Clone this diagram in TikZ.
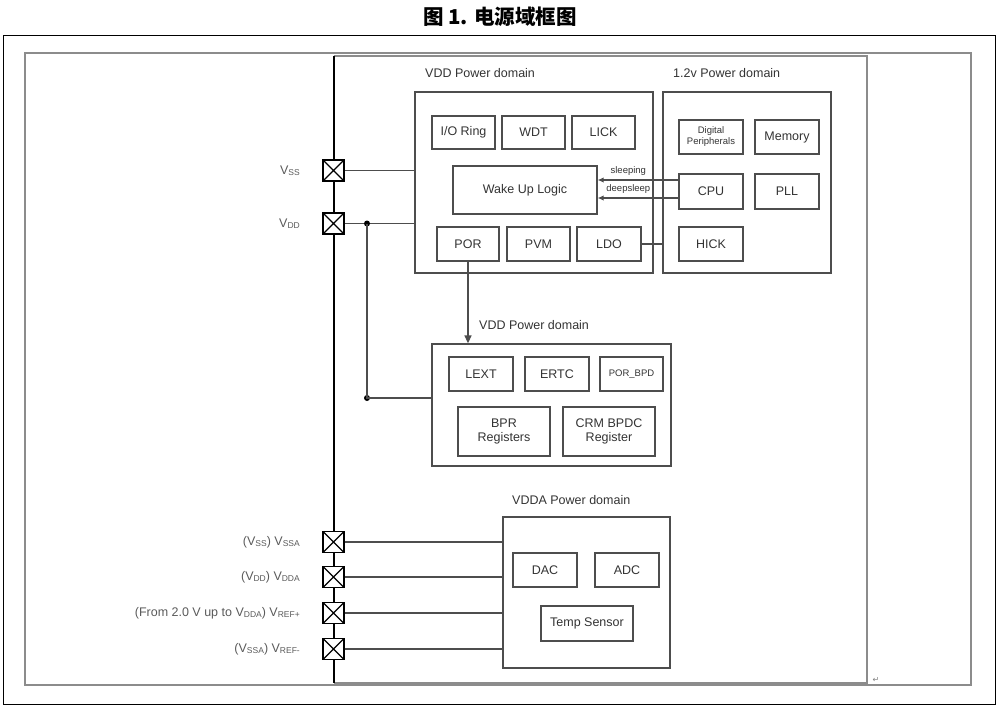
\documentclass[tikz,border=0pt]{standalone}
\usepackage{fontspec}
\setmainfont{Liberation Sans}
\newfontfamily\cjk{Noto Sans CJK SC}
\newfontfamily\dejavu{DejaVu Sans}
\usetikzlibrary{arrows.meta}
\newcommand{\pinsub}[1]{\raisebox{-0.8pt}{\fontsize{8.5}{9}\selectfont #1}}
\definecolor{boxline}{HTML}{4D4D4D}
\definecolor{boxtext}{HTML}{333333}
\definecolor{pinlabel}{HTML}{5A5A5A}
\definecolor{framegray}{HTML}{8C8C8C}

\begin{document}
\begin{tikzpicture}[
  x=1pt,
  y=-1pt,
  every node/.style={font=\fontsize{12.5}{14}\selectfont, text=boxtext},
  blk/.style={draw=boxline, line width=1.3pt, inner sep=0pt, align=center},
  cell/.style={blk, minimum width=64pt, minimum height=34pt},
  widecell/.style={blk, minimum width=92pt, minimum height=49pt},
  wire/.style={boxline, line width=1.4pt},
  smalltxt/.style={font=\fontsize{9.5}{11}\selectfont},
  pad/.style={draw=black, line width=1.5pt, fill=white, inner sep=0pt, minimum size=21pt,
    path picture={\draw[black, line width=1.1pt]
      (path picture bounding box.north west) -- (path picture bounding box.south east)
      (path picture bounding box.north east) -- (path picture bounding box.south west);}},
  pinlbl/.style={anchor=east, inner sep=0pt, text=pinlabel},
  dot/.style={circle, fill=black, inner sep=0pt, minimum size=6pt}
]
  \useasboundingbox (0,0) rectangle (1000,710);

  % ---- title and frames ----
  \node[font=\cjk\bfseries\fontsize{20.5}{22}\selectfont, text=black] (title) at (500,17) {图 1. 电源域框图};
  \draw[black, line width=0.8pt] (3,35) rectangle (995,704);
  \draw[framegray, line width=1.2pt] (25,53) rectangle (971,685);
  \draw[framegray, line width=1.5pt] (333.5,56) -- (867,56) -- (867,683) -- (333.5,683);
  \node[font=\dejavu\fontsize{8}{8}\selectfont, text=gray] (retmark) at (876,680) {↵};

  % ---- supply bus ----
  \draw[black, line width=2pt] (333.5,56) -- (333.5,683);

  % ---- VDD power domain ----
  \node[anchor=west, inner sep=0pt] (vddtitle) at (425,73) {VDD Power domain};
  \node[blk, minimum width=238pt, minimum height=181pt] (vddbox) at (534,182.5) {};
  \node[cell, minimum width=63pt, minimum height=33pt] (ioring) at (463.5,132.5) {I/O Ring};
  \node[cell, minimum width=63pt, minimum height=33pt] (wdt) at (533.5,132.5) {WDT};
  \node[cell, minimum width=63pt, minimum height=33pt] (lick) at (603.5,132.5) {LICK};
  \node[blk, minimum width=144pt, minimum height=48pt] (wakeup) at (525,190) {Wake Up Logic};
  \node[cell, minimum width=62pt] (por) at (468,244) {POR};
  \node[cell, minimum width=63pt] (pvm) at (538.5,244) {PVM};
  \node[cell] (ldo) at (609,244) {LDO};

  % ---- 1.2v power domain ----
  \node[anchor=west, inner sep=0pt] (coretitle) at (673,73) {1.2v Power domain};
  \node[blk, minimum width=168pt, minimum height=181pt] (corebox) at (747,182.5) {};
  \node[cell, smalltxt] (digper) at (711,137) {Digital\\Peripherals};
  \node[cell] (memory) at (787,137) {Memory};
  \node[cell, minimum height=35pt] (cpu) at (711,191.5) {CPU};
  \node[cell, minimum height=35pt] (pll) at (787,191.5) {PLL};
  \node[cell] (hick) at (711,244) {HICK};

  % ---- battery powered VDD domain ----
  \node[anchor=west, inner sep=0pt] (bkptitle) at (479,325) {VDD Power domain};
  \node[blk, minimum width=239pt, minimum height=122pt] (bkpbox) at (551.5,405) {};
  \node[cell] (lext) at (481,374) {LEXT};
  \node[cell] (ertc) at (557,374) {ERTC};
  \node[cell, minimum width=63pt, font=\fontsize{9.5}{11}\selectfont] (porbpd) at (631.5,374) {POR\_BPD};
  \node[widecell] (bpr) at (504,431.5) {BPR\\Registers};
  \node[widecell] (crm) at (609,431.5) {CRM BPDC\\Register};

  % ---- VDDA power domain ----
  \node[anchor=west, inner sep=0pt] (vddatitle) at (512,500) {VDDA Power domain};
  \node[blk, minimum width=167pt, minimum height=151pt] (vddabox) at (586.5,592.5) {};
  \node[cell] (dac) at (545,570) {DAC};
  \node[cell] (adc) at (627,570) {ADC};
  \node[widecell, minimum height=35pt] (temp) at (587,623.5) {Temp Sensor};

  % ---- pads ----
  \node[pad] (vss) at (333.5,170.5) {};
  \node[pad] (vdd) at (333.5,223.5) {};
  \node[pad] (vssa) at (333.5,542) {};
  \node[pad] (vdda) at (333.5,577) {};
  \node[pad] (vrefp) at (333.5,613) {};
  \node[pad] (vrefn) at (333.5,649) {};

  \node[pinlbl] (vsslbl) at (300,170.5) {V\pinsub{SS}};
  \node[pinlbl] (vddlbl) at (300,223.5) {V\pinsub{DD}};
  \node[pinlbl] (vssalbl) at (300,542) {(V\pinsub{SS}) V\pinsub{SSA}};
  \node[pinlbl] (vddalbl) at (300,577) {(V\pinsub{DD}) V\pinsub{DDA}};
  \node[pinlbl] (vrefplbl) at (300,613) {(From 2.0 V up to V\pinsub{DDA}) V\pinsub{REF+}};
  \node[pinlbl] (vrefnlbl) at (300,649) {(V\pinsub{SSA}) V\pinsub{REF-}};

  % ---- connections ----
  \draw[wire] (vss.east) -- (vss.east -| vddbox.west);
  \draw[wire] (vdd.east) -- (vdd.east -| vddbox.west);
  \node[dot] (vddtap) at (367,223.5) {};
  \coordinate (bkptap) at (367,398);
  \node[dot] (bkpdot) at (bkptap) {};
  \draw[wire] (vddtap.center) -- (bkpdot.center) -- (bkptap -| bkpbox.west);
  \draw[wire, -{Triangle[length=8pt, width=7pt]}] (por.south) -- (por.south |- bkpbox.north);
  \draw[wire] (ldo.east) -- (ldo.east -| corebox.west);
  \draw[wire, -{Latex[length=6pt, width=5.5pt]}] ([yshift=11.5pt]cpu.west) -- ([yshift=11.5pt]cpu.west -| wakeup.east)
    node[pos=0.62, above=0.5pt, smalltxt] {sleeping};
  \draw[wire, -{Latex[length=6pt, width=5.5pt]}] ([yshift=-6.5pt]cpu.west) -- ([yshift=-6.5pt]cpu.west -| wakeup.east)
    node[pos=0.62, above=0.5pt, smalltxt] {deepsleep};
  \draw[wire] (vssa.east) -- (vssa.east -| vddabox.west);
  \draw[wire] (vdda.east) -- (vdda.east -| vddabox.west);
  \draw[wire] (vrefp.east) -- (vrefp.east -| vddabox.west);
  \draw[wire] (vrefn.east) -- (vrefn.east -| vddabox.west);
\end{tikzpicture}
\end{document}
